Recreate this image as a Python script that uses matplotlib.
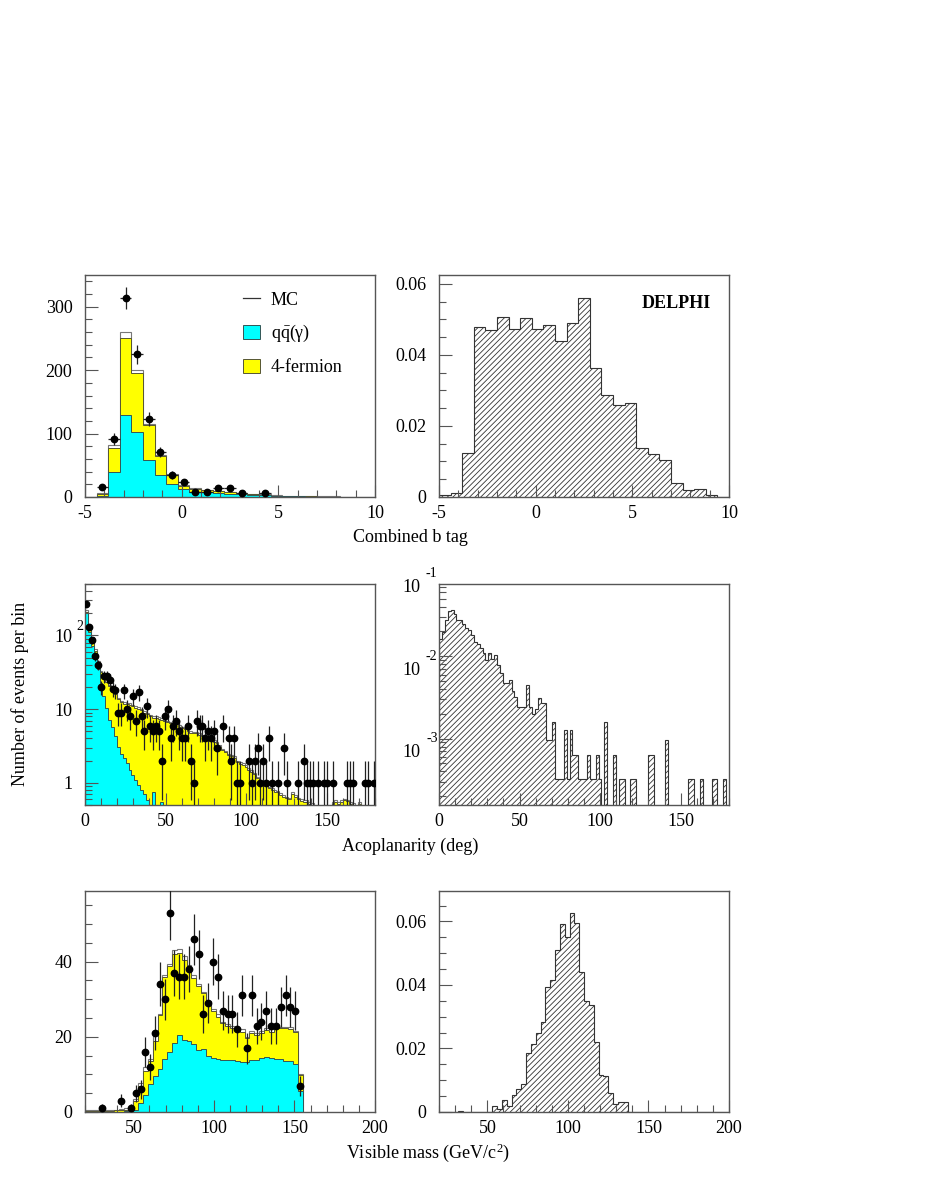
import numpy as np
import matplotlib
matplotlib.use("Agg")
import matplotlib.pyplot as plt
from matplotlib.ticker import MultipleLocator, LogLocator, NullFormatter, FixedLocator, FuncFormatter
from matplotlib.lines import Line2D
from matplotlib.patches import Patch

plt.rcParams['font.family'] = ['Liberation Serif', 'DejaVu Serif']
plt.rcParams['mathtext.fontset'] = 'custom'
plt.rcParams['mathtext.rm'] = 'Liberation Serif'
plt.rcParams['mathtext.it'] = 'Liberation Serif:italic'
plt.rcParams['axes.unicode_minus'] = False
plt.rcParams['hatch.linewidth'] = 0.6

# --- Combined b tag (25 bins of 0.6 from -5 to 10) ---
btag_edges = np.linspace(-5, 10, 26)
btag_data = [0, 15, 92, 314, 225, 123, 71, 35, 24, 8, 8, 14, 14, 7, 0, 7, 0, 0, 0, 0, 0, 0, 0, 0, 0]
btag_total = [0, 6, 82, 260, 200, 115.5, 67, 37, 19.4, 14, 11.5, 10, 8, 6.3, 4.7, 4.2, 2.6, 2.1, 2.0, 1.5, 1.0, 0.8, 0.3, 0, 0]
btag_stack = [0, 5, 78, 251, 196, 114, 65, 35, 18, 13, 10.5, 9, 7.3, 5.8, 4.2, 3.7, 2.1, 1.6, 1.5, 1.0, 0.6, 0.4, 0.1, 0, 0]
btag_qq = [0, 2, 40, 130, 102, 58, 34, 20, 12.6, 8.5, 7.3, 6.3, 5.2, 4.2, 3.1, 2.6, 1.6, 1.0, 0.8, 0.5, 0.3, 0.2, 0, 0, 0]
btag_sig = [0.0005, 0.001, 0.0124, 0.0478, 0.047, 0.0508, 0.0473, 0.0503, 0.0473, 0.0483,
            0.0438, 0.0489, 0.0559, 0.0363, 0.0287, 0.026, 0.0264, 0.0139, 0.0121, 0.0104,
            0.004, 0.002, 0.0023, 0.0005, 0]

# --- Acoplanarity (100 bins of 1.8 deg) ---
acop_edges = np.linspace(0, 180, 101)
acop_data = [266, 130, 87, 53, 40, 20, 28, 28, 25, 19,
             18, 9, 9, 18, 10, 8, 15, 7, 17, 8,
             5, 11, 6, 5, 6, 5, 2, 8, 10, 4,
             6, 7, 5, 4, 4, 6, 2, 1, 7, 6,
             6, 4, 5, 4, 5, 3, 0, 6, 0, 4,
             2, 4, 1, 1, 0, 0, 2, 1, 2, 3,
             1, 2, 1, 4, 1, 0, 1, 0, 3, 1,
             0, 0, 0, 1, 0, 2, 1, 1, 1, 0,
             1, 0, 1, 1, 0, 1, 0, 0, 0, 0,
             1, 1, 1, 0, 0, 0, 1, 1, 0, 1]
acop_total = [219, 129, 94, 65, 45, 33, 28.3, 24.6, 21.6, 19.5,
              16.7, 14.3, 13.1, 12.4, 12.2, 12.0, 11.5, 10.9, 10.6, 10.2,
              9.3, 8.9, 8.4, 8.1, 8.1, 7.8, 7.5, 7.2, 6.9, 6.7,
              6.8, 6.5, 6.1, 5.8, 5.6, 5.3, 5.0, 4.9, 4.9, 4.7,
              4.5, 4.2, 4.0, 4.0, 3.8, 3.6, 3.3, 2.9, 2.7, 2.5,
              2.4, 2.3, 2.0, 1.9, 1.85, 1.75, 1.6, 1.5, 1.35, 1.2,
              1.08, 1.03, 0.98, 0.88, 0.84, 0.8, 0.78, 0.72, 0.68, 0.65,
              0.63, 0.74, 0.68, 0.63, 0.6, 0.58, 0.58, 0.55, 0.53, 0.48,
              0.45, 0.42, 0.4, 0.42, 0.48, 0.55, 0.58, 0.55, 0.58, 0.61,
              0.59, 0.55, 0.53, 0.48, 0.55, 0.42, 0.37, 0.32, 0.32, 0.32]
acop_stack = [209, 123, 90, 62, 43, 31.5, 27, 23.5, 20.6, 18.6,
              15.9, 13.6, 12.5, 11.8, 11.6, 11.4, 11.0, 10.4, 10.1, 9.7,
              8.9, 8.5, 8.0, 7.7, 7.7, 7.4, 7.1, 6.9, 6.6, 6.4,
              6.5, 6.2, 5.8, 5.5, 5.3, 5.0, 4.8, 4.7, 4.7, 4.5,
              4.3, 4.0, 3.8, 3.8, 3.6, 3.45, 3.1, 2.8, 2.6, 2.4,
              2.3, 2.2, 1.9, 1.8, 1.75, 1.65, 1.5, 1.4, 1.3, 1.15,
              1.03, 0.98, 0.93, 0.84, 0.8, 0.76, 0.74, 0.68, 0.64, 0.62,
              0.6, 0.7, 0.65, 0.6, 0.57, 0.55, 0.55, 0.52, 0.5, 0.45,
              0.42, 0.4, 0.38, 0.4, 0.45, 0.52, 0.55, 0.52, 0.55, 0.58,
              0.56, 0.52, 0.5, 0.45, 0.52, 0.4, 0.35, 0.3, 0.3, 0.3]
acop_qq = [200, 111, 73, 48, 35, 23, 15, 10.4, 7.2, 5.8,
           4.3, 3.1, 2.5, 2.15, 1.84, 1.5, 1.27, 1.09, 0.93, 0.79,
           0.71, 0.58, 0.3, 0.75, 0.2, 0, 0.55] + [0] * 73
acop_sig = [0.0164, 0.0198, 0.0279, 0.0355, 0.0369, 0.0324, 0.0279, 0.0279, 0.0249, 0.0223,
            0.0211, 0.0180, 0.0149, 0.0140, 0.0127, 0.0110, 0.0089, 0.0110, 0.0093, 0.0105,
            0.0078, 0.0063, 0.0047, 0.0047, 0.0052, 0.0038, 0.0032, 0.0024, 0.0024, 0.0024,
            0.0045, 0.0024, 0.0020, 0.0023, 0.0031, 0.0027, 0.0027, 0.00096, 0.00096, 0.0016,
            0.00032, 0.00032, 0.00032, 0.00128, 0.00032, 0.00128, 0.00064, 0.00064, 0.00032, 0.00032,
            0.00032, 0.00064, 0.00032, 0.00032, 0.00064, 0.00032, 0, 0.0016, 0, 0,
            0.00064, 0, 0.00032, 0.00032, 0, 0, 0.00032, 0.00032, 0, 0,
            0, 0, 0.00064, 0.00064, 0, 0, 0, 0, 0.00096, 0,
            0, 0, 0, 0, 0, 0, 0.00032, 0.00032, 0, 0,
            0.00032, 0, 0, 0, 0.00032, 0.00032, 0, 0, 0.00032, 0]

# --- Visible mass (bins of 3 GeV from 20) ---
mvis_edges = np.arange(20, 156, 3)
mvis_data = [0, 0, 0, 1, 0, 0, 0, 3, 0, 1,
             5, 6, 16, 12, 21, 34, 30, 53, 37, 36,
             36, 38, 46, 42, 26, 29, 40, 36, 27, 26,
             26, 22, 31, 17, 31, 23, 24, 27, 23, 23,
             28, 31, 28, 27, 7]
mvis_total = [0.4, 0.4, 0.4, 0.4, 0.4, 0.5, 0.6, 0.8, 1.0, 1.4,
              3.4, 7.6, 12.0, 14.2, 21.0, 26.2, 36.5, 39.5, 43.0, 43.5,
              41.5, 39.0, 36.5, 34.0, 32.0, 29.5, 27.5, 26.0, 24.0, 23.3,
              22.8, 22.4, 22.0, 20.0, 21.5, 21.0, 21.5, 22.3, 22.0, 22.6,
              22.6, 22.6, 22.5, 21.5, 10.2]
mvis_stack = [0.3, 0.3, 0.3, 0.3, 0.3, 0.3, 0.4, 0.5, 0.6, 1.0,
              3.0, 7.0, 11.0, 13.5, 19.0, 25.7, 36.0, 38.8, 42.0, 42.3,
              40.5, 38.3, 35.6, 33.4, 31.6, 28.8, 26.8, 25.4, 23.6, 22.8,
              22.3, 21.9, 21.4, 19.6, 21.0, 20.5, 21.0, 21.9, 21.4, 22.3,
              22.3, 22.3, 22.0, 21.2, 9.9]
mvis_qq = [0, 0, 0, 0, 0, 0, 0.1, 0.1, 0.2, 0.3,
           0.5, 2.5, 4.5, 7.5, 9.5, 11.5, 14, 16, 18.3, 20.5,
           19.2, 18.8, 18, 16.5, 16.7, 14.8, 14.5, 14, 13.9, 13.8,
           13.8, 13.6, 13.4, 13.3, 13.8, 13.8, 14.5, 14.6, 14.4, 14.2,
           14, 13.7, 13.5, 12.8, 5.5]
mvis_sig_edges = np.arange(20, 201, 3)
mvis_sig = [0, 0, 0, 0, 0.0003, 0, 0, 0, 0, 0,
            0, 0.0018, 0.0009, 0.0039, 0.0018, 0.0053, 0.0072, 0.0089, 0.0185, 0.0214,
            0.0249, 0.0283, 0.0395, 0.0416, 0.0511, 0.0592, 0.0551, 0.0626, 0.0595, 0.0440,
            0.0349, 0.0336, 0.0222, 0.0117, 0.0112, 0.0060, 0.0025, 0.0030, 0.0033, 0,
            0, 0, 0, 0, 0, 0, 0, 0, 0, 0,
            0, 0, 0, 0, 0, 0, 0, 0, 0, 0]

W, H = 926, 1199
fig = plt.figure(figsize=(W / 100, H / 100), dpi=100)


def add_axes(x0, y0, x1, y1):
    # pixel box (top-left origin) -> figure fraction
    return fig.add_axes([x0 / W, 1 - y1 / H, (x1 - x0) / W, (y1 - y0) / H])


def style(ax):
    for s in ax.spines.values():
        s.set_color('#555555')
        s.set_linewidth(1.0)
    ax.tick_params(which='both', direction='in', top=False, right=False,
                   color='#555555', width=0.8, labelsize=13)
    ax.tick_params(which='major', length=9)
    ax.tick_params(which='minor', length=5)
    ax.tick_params(axis='x', pad=6)
    ax.tick_params(axis='y', pad=9)


def draw_mc(ax, edges, total, stack, qq, base=0.0):
    total, stack, qq = [np.where(np.array(v) > 0, v, base) for v in (total, stack, qq)]
    ax.stairs(total, edges, baseline=base, fill=True, facecolor='white', edgecolor='#777777', lw=0.8)
    ax.stairs(stack, edges, baseline=base, fill=True, facecolor='#ffff00', edgecolor='#555533', lw=0.7)
    ax.stairs(qq, edges, baseline=base, fill=True, facecolor='#00ffff', edgecolor='#335555', lw=0.7)


def draw_data(ax, edges, counts, log=False):
    counts = np.array(counts, dtype=float)
    centers = 0.5 * (edges[:-1] + edges[1:])
    half = 0.5 * (edges[1] - edges[0])
    m = counts > 0
    n = counts[m]
    err = np.sqrt(n)
    lo = np.minimum(err, n * 0.999) if log else err
    ax.errorbar(centers[m], n, yerr=[lo, err], xerr=half, fmt='o', ms=4.6,
                color='black', ecolor='#222222', elinewidth=0.9, capsize=0, zorder=5)


def draw_sig(ax, edges, vals, base=0.0):
    vals = np.where(np.array(vals) > 0, vals, base)
    ax.stairs(vals, edges, baseline=base, fill=True, facecolor='white',
              edgecolor='#333333', lw=0.8, hatch='//////')


def frac_fmt(v, _):
    return '0' if abs(v) < 1e-9 else f'{v:.2f}'


# ---------------- top row ----------------
ax1 = add_axes(85, 275, 375, 497)
draw_mc(ax1, btag_edges, btag_total, btag_stack, btag_qq)
draw_data(ax1, btag_edges, btag_data)
ax1.set_xlim(-5, 10)
ax1.set_ylim(0, 350)
ax1.xaxis.set_major_locator(MultipleLocator(5))
ax1.xaxis.set_minor_locator(MultipleLocator(1))
ax1.yaxis.set_major_locator(MultipleLocator(100))
ax1.yaxis.set_minor_locator(MultipleLocator(20))
style(ax1)
handles = [Line2D([0], [0], color='#333333', lw=0.9),
           Patch(facecolor='#00ffff', edgecolor='#335555', lw=0.7),
           Patch(facecolor='#ffff00', edgecolor='#555533', lw=0.7)]
ax1.legend(handles, ['MC', r'$\mathregular{q\bar{q}(\gamma)}$', '4-fermion'],
           loc='upper left', bbox_to_anchor=(0.544, 0.925), frameon=False,
           fontsize=13, borderpad=0, borderaxespad=0, handlelength=0.95,
           handleheight=0.8, handletextpad=0.6, labelspacing=0.8)

ax2 = add_axes(439, 275, 729, 497)
draw_sig(ax2, btag_edges, btag_sig)
ax2.set_xlim(-5, 10)
ax2.set_ylim(0, 0.0625)
ax2.xaxis.set_major_locator(MultipleLocator(5))
ax2.xaxis.set_minor_locator(MultipleLocator(1))
ax2.yaxis.set_major_locator(MultipleLocator(0.02))
ax2.yaxis.set_minor_locator(MultipleLocator(0.005))
ax2.yaxis.set_major_formatter(FuncFormatter(frac_fmt))
style(ax2)
ax2.text((676 - 439) / 290, 1 - (303 - 275) / 222, 'DELPHI', transform=ax2.transAxes,
         ha='center', va='center', fontsize=13, fontweight='bold')

# ---------------- middle row ----------------
ax3 = add_axes(85, 584, 375, 805)
ax3.set_yscale('log')
draw_mc(ax3, acop_edges, acop_total, acop_stack, acop_qq, base=1e-3)
draw_data(ax3, acop_edges, acop_data, log=True)
ax3.set_xlim(0, 180)
ax3.set_ylim(0.5, 500)
ax3.xaxis.set_major_locator(MultipleLocator(50))
ax3.xaxis.set_minor_locator(MultipleLocator(10))
ax3.yaxis.set_major_locator(FixedLocator([1, 10, 100]))
ax3.yaxis.set_major_formatter(FuncFormatter(lambda v, _: '1' if v < 5 else '10'))
ax3.yaxis.set_minor_locator(LogLocator(base=10, subs=np.arange(2, 10)))
ax3.yaxis.set_minor_formatter(NullFormatter())
style(ax3)
ax3.annotate('2', xy=(0, 100), xycoords=('axes fraction', 'data'), xytext=(-1.5, 6.5),
             textcoords='offset points', ha='right', va='center', fontsize=10,
             annotation_clip=False)

ax4 = add_axes(439, 584, 729, 805)
ax4.set_yscale('log')
draw_sig(ax4, acop_edges, acop_sig, base=1e-7)
ax4.set_xlim(0, 180)
ax4.set_ylim(1.56e-4, 0.0755)
ax4.xaxis.set_major_locator(MultipleLocator(50))
ax4.xaxis.set_minor_locator(MultipleLocator(10))
ax4.yaxis.set_major_locator(FixedLocator([1e-3, 1e-2]))
ax4.yaxis.set_major_formatter(NullFormatter())
ax4.yaxis.set_minor_locator(LogLocator(base=10, subs=np.arange(2, 10)))
ax4.yaxis.set_minor_formatter(NullFormatter())
style(ax4)
for d in (-1, -2, -3):
    ax4.annotate(str(d), xy=(0, 10.0 ** d), xycoords=('axes fraction', 'data'), xytext=(-1, 0),
                 textcoords='offset points', ha='right', va='center', fontsize=10,
                 annotation_clip=False)
    ax4.annotate('10', xy=(0, 10.0 ** d), xycoords=('axes fraction', 'data'), xytext=(-13.5, -10),
                 textcoords='offset points', ha='right', va='center', fontsize=13,
                 annotation_clip=False)

# ---------------- bottom row ----------------
ax5 = add_axes(85, 891, 375, 1112)
draw_mc(ax5, mvis_edges, mvis_total, mvis_stack, mvis_qq)
draw_data(ax5, mvis_edges, mvis_data)
ax5.set_xlim(20, 200)
ax5.set_ylim(0, 58.8)
ax5.xaxis.set_major_locator(MultipleLocator(50))
ax5.xaxis.set_minor_locator(MultipleLocator(10))
ax5.yaxis.set_major_locator(MultipleLocator(20))
ax5.yaxis.set_minor_locator(MultipleLocator(5))
style(ax5)

ax6 = add_axes(439, 891, 729, 1112)
draw_sig(ax6, mvis_sig_edges, mvis_sig)
ax6.set_xlim(20, 200)
ax6.set_ylim(0, 0.0696)
ax6.xaxis.set_major_locator(MultipleLocator(50))
ax6.xaxis.set_minor_locator(MultipleLocator(10))
ax6.yaxis.set_major_locator(MultipleLocator(0.02))
ax6.yaxis.set_minor_locator(MultipleLocator(0.005))
ax6.yaxis.set_major_formatter(FuncFormatter(frac_fmt))
style(ax6)

# ---------------- shared labels ----------------
fig.text(410 / W, 1 - 537 / H, 'Combined b tag', ha='center', va='center', fontsize=13)
fig.text(410 / W, 1 - 846 / H, 'Acoplanarity (deg)', ha='center', va='center', fontsize=13)
fig.text(428 / W, 1 - 1153 / H, r'Visible mass (GeV/c$^{\mathregular{2}}$)', ha='center', va='center', fontsize=13)
fig.text(20 / W, 1 - 694 / H, 'Number of events per bin', rotation=90,
         ha='center', va='center', fontsize=13)

fig.savefig('out.png', dpi=100)
